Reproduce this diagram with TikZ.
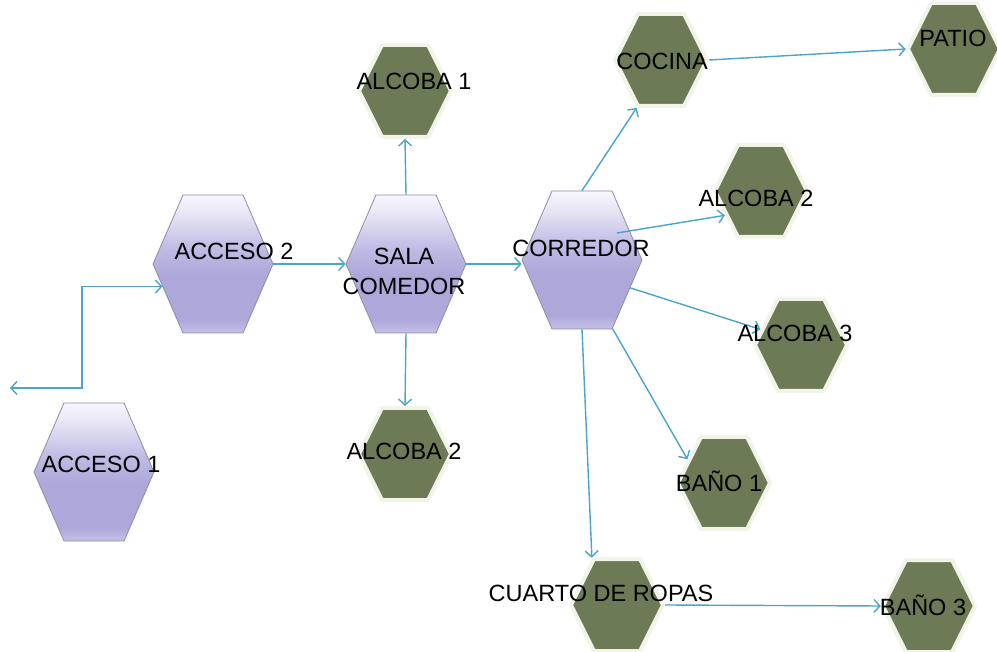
\documentclass[tikz,border=0pt]{standalone}
\usepackage{fontspec}
\setmainfont{Liberation Sans}
\usetikzlibrary{shapes.symbols,arrows.meta}
\definecolor{linkblue}{HTML}{4BA5C6}
\definecolor{hexolive}{HTML}{6C7A55}
\definecolor{hexglow}{HTML}{F2F4EA}
\definecolor{hexedge}{HTML}{8F8CA3}
\pgfdeclareverticalshading{lavshade}{100bp}{color(0bp)=(rgb,255:red,196;green,192;blue,232);
  color(25bp)=(rgb,255:red,196;green,192;blue,232);
  color(30bp)=(rgb,255:red,173;green,168;blue,217);
  color(46bp)=(rgb,255:red,173;green,168;blue,217);
  color(56bp)=(rgb,255:red,192;green,188;blue,229);
  color(67bp)=(rgb,255:red,228;green,226;blue,244);
  color(75bp)=(rgb,255:red,248;green,247;blue,253);
  color(100bp)=(rgb,255:red,248;green,247;blue,253)}
\begin{document}
\begin{tikzpicture}[x=1pt,y=-1pt,
  hexbig/.style={shape=signal, signal to=east and west, signal pointer angle=133,
    minimum width=120pt, minimum height=138pt, inner sep=0pt, draw=hexedge,
    line width=0.8pt, shading=lavshade},
  hexsmall/.style={shape=signal, signal to=east and west, signal pointer angle=127,
    minimum width=92pt, minimum height=92pt, inner sep=0pt, draw=hexglow,
    line width=4pt, line join=round, fill=hexolive},
  room/.style={font=\fontsize{23.5}{30}\selectfont, inner sep=0pt, anchor=base},
  link/.style={draw=linkblue, line width=1.4pt, ->},
  >={Straight Barb[length=6pt,width=13pt]}]
\fill[white] (0,0) rectangle (997,652);
\useasboundingbox (0,0) rectangle (997,652);
\node[hexbig] (acceso1) at (94,472) {};
\node[hexbig] (acceso2) at (213,264) {};
\node[hexbig] (sala) at (406,264) {};
\node[hexbig] (corredor) at (582,260) {};
\node[hexsmall] (alcoba1) at (405,91) {};
\node[hexsmall] (alcoba2s) at (405,454) {};
\node[hexsmall] (cocina) at (661,60) {};
\node[hexsmall] (patio) at (954,49) {};
\node[hexsmall] (alcoba2c) at (761,191) {};
\node[hexsmall] (alcoba3) at (801,345) {};
\node[hexsmall] (bano1) at (724,483) {};
\node[hexsmall] (cuarto) at (617,605) {};
\node[hexsmall] (bano3) at (929,606) {};
\coordinate (exit) at (10,388);
\coordinate (bend) at (82,388);
\draw[link,<->] (exit) -- (bend) |- (acceso2.204);
\draw[link] (acceso2.east) -- (sala.west);
\draw[link] (sala.north) -- (alcoba1.south);
\draw[link] (sala.south) -- (alcoba2s.north);
\draw[link] (sala.east) -- (sala.east -| corredor.west);
\draw[link] (corredor.north) -- (cocina.243);
\draw[link] ([shift={(35,-27)}]corredor.center) -- (alcoba2c.214);
\draw[link] (corredor.-30) -- (alcoba3.159);
\draw[link] (corredor.-66) -- (bano1.147);
\draw[link] (corredor.south) -- (cuarto.118);
\draw[link] (cocina.east) -- (patio.west);
\draw[link] (cuarto.east) -- (bano3.west);
\node[room] (lacceso1) at (101,473) {ACCESO 1};
\node[room] (lacceso2) at (234,260) {ACCESO 2};
\node[room,anchor=center,align=center] (lsala) at (404,271) {SALA\\COMEDOR};
\node[room] (lcorredor) at (581,257) {CORREDOR};
\node[room] (lcocina) at (662,70) {COCINA};
\node[room] (lpatio) at (953,47) {PATIO};
\node[room] (lalcoba1) at (414,90) {ALCOBA 1};
\node[room] (lalcoba2s) at (404,460) {ALCOBA 2};
\node[room] (lalcoba2c) at (756,207) {ALCOBA 2};
\node[room] (lalcoba3) at (795,342) {ALCOBA 3};
\node[room] (lbano1) at (719,491) {BAÑO 1};
\node[room] (lcuarto) at (601,601) {CUARTO DE ROPAS};
\node[room] (lbano3) at (923,615) {BAÑO 3};
\end{tikzpicture}
\end{document}
